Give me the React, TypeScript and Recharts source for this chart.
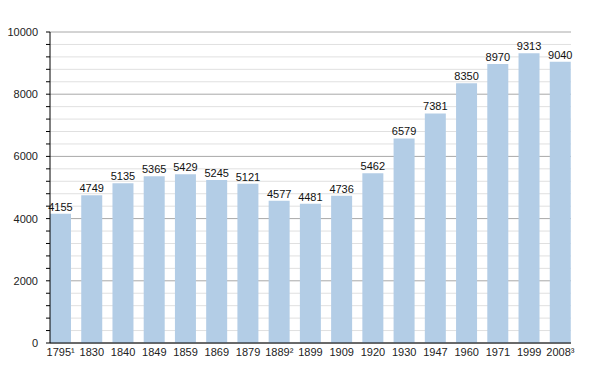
import { BarChart, Bar, XAxis, YAxis, CartesianGrid, LabelList } from 'recharts';

const years = ['1795¹', '1830', '1840', '1849', '1859', '1869', '1879', '1889²', '1899', '1909', '1920', '1930', '1947', '1960', '1971', '1999', '2008³'];
const population = [4155, 4749, 5135, 5365, 5429, 5245, 5121, 4577, 4481, 4736, 5462, 6579, 7381, 8350, 8970, 9313, 9040];
const yTicks = [0, 400, 800, 1200, 1600, 2000, 2400, 2800, 3200, 3600, 4000, 4400, 4800, 5200, 5600, 6000, 6400, 6800, 7200, 7600, 8000, 8400, 8800, 9200, 9600, 10000];

const data = years.map((year, i) => ({ year, value: population[i] }));
const font = '"Liberation Sans", Arial, sans-serif';

const PLOT_TOP = 32;
const PLOT_BOTTOM = 343;

// major lines every 2000 are darker than the minor 400 ones
const gridLine = (props: any) => {
  const { x1, x2, y1, y2 } = props;
  const k = ((PLOT_BOTTOM - y1) / (PLOT_BOTTOM - PLOT_TOP)) * 5;
  const major = Math.abs(k - Math.round(k)) < 0.02;
  return (
    <line
      key={`h-${y1}`}
      x1={x1}
      x2={x2}
      y1={y1}
      y2={y2}
      stroke={major ? '#a8a8a8' : '#e0e0e0'}
      strokeWidth={1}
    />
  );
};

export default function App() {
  return (
    <div style={{ fontFamily: font }}>
      <style>{`body{margin:0}`}</style>
      <BarChart
        width={600}
        height={373}
        data={data}
        margin={{ top: PLOT_TOP, right: 29, left: 0, bottom: 0 }}
        barCategoryGap={5}
      >
        <CartesianGrid vertical={false} horizontal={gridLine} />
        <XAxis
          dataKey="year"
          height={30}
          padding={{ left: -5, right: -5 }}
          tickLine={false}
          tickSize={3}
          axisLine={{ stroke: '#000' }}
          interval={0}
          tick={{ fill: '#222', fontSize: 11, fontFamily: font }}
        />
        <YAxis
          width={50}
          domain={[0, 10000]}
          ticks={yTicks}
          interval={0}
          tickSize={4}
          tickMargin={8}
          tickLine={{ stroke: '#000' }}
          axisLine={{ stroke: '#000' }}
          tickFormatter={(v: number) => (v % 2000 === 0 ? String(v) : '')}
          tick={{ fill: '#222', fontSize: 11, fontFamily: font }}
        />
        <Bar dataKey="value" fill="#b3cde6" isAnimationActive={false}>
          <LabelList
            dataKey="value"
            position="top"
            offset={3}
            style={{ fill: '#111', fontSize: 11, fontFamily: font }}
          />
        </Bar>
      </BarChart>
    </div>
  );
}
